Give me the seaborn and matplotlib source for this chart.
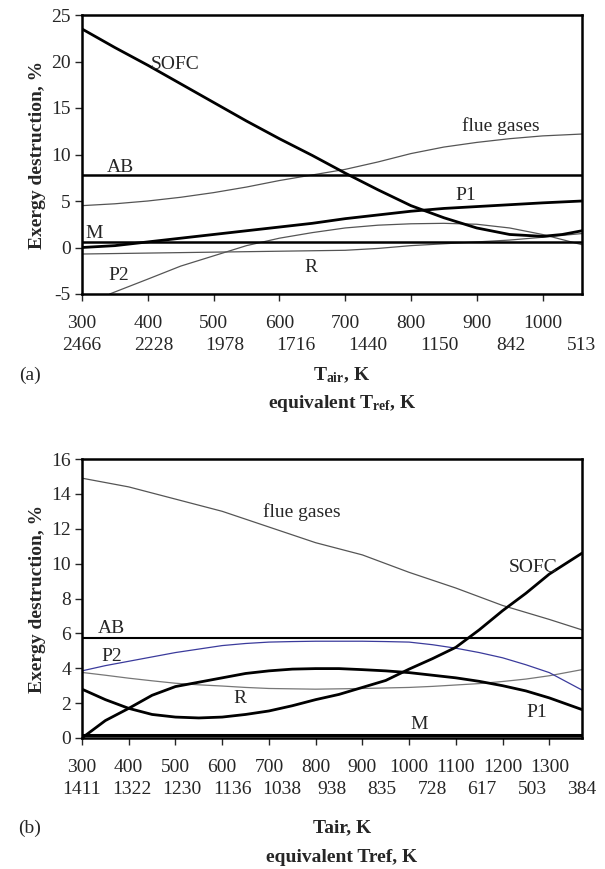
import numpy as np
import pandas as pd
import matplotlib
matplotlib.use("Agg")
import matplotlib.pyplot as plt
import matplotlib.transforms as mtransforms
import seaborn as sns

# ---- panel (a): vs T_air ----
a_T = [300, 350, 400, 450, 500, 550, 600, 650, 700, 750, 800, 850, 900, 950, 1000, 1030, 1060]
a_sofc = [23.5, 21.5, 19.6, 17.6, 15.6, 13.6, 11.7, 9.9, 8.0, 6.2, 4.5, 3.2, 2.1, 1.4, 1.2, 1.4, 1.8]
a_T2 = [300, 350, 400, 450, 500, 550, 600, 650, 700, 750, 800, 850, 900, 950, 1000, 1060]
a_flue = [4.5, 4.7, 5.0, 5.4, 5.9, 6.5, 7.2, 7.8, 8.4, 9.2, 10.1, 10.8, 11.3, 11.7, 12.0, 12.2]
a_p1 = [0.0, 0.2, 0.6, 1.0, 1.4, 1.8, 2.2, 2.6, 3.1, 3.5, 3.9, 4.2, 4.4, 4.6, 4.8, 5.0]
a_r = [-0.7, -0.65, -0.6, -0.55, -0.5, -0.45, -0.4, -0.35, -0.3, -0.1, 0.2, 0.4, 0.6, 0.8, 1.1, 1.5]
a_T_p2 = [342, 400, 450, 500, 550, 600, 650, 700, 750, 800, 850, 900, 950, 1000, 1060]
a_p2 = [-5.0, -3.4, -2.0, -0.9, 0.2, 1.0, 1.6, 2.1, 2.4, 2.55, 2.6, 2.5, 2.1, 1.4, 0.3]
a_ab = 7.8
a_m = 0.6
a_ticks = [300, 400, 500, 600, 700, 800, 900, 1000]
a_tref = ["2466", "2228", "1978", "1716", "1440", "1150", "842", "513"]

# ---- panel (b): vs T_air ----
b_T = [300, 350, 400, 450, 500, 550, 600, 650, 700, 750, 800, 850, 900, 950, 1000, 1050,
       1100, 1150, 1200, 1250, 1300, 1370]
b_sofc = [2.8, 2.2, 1.7, 1.35, 1.2, 1.15, 1.2, 1.35, 1.55, 1.85, 2.2, 2.5, 2.9, 3.3, 3.95, 4.55,
          5.2, 6.2, 7.3, 8.3, 9.4, 10.6]
b_p1 = [0.0, 1.0, 1.7, 2.45, 2.95, 3.2, 3.45, 3.7, 3.85, 3.95, 3.98, 3.98, 3.92, 3.85, 3.75, 3.6,
        3.45, 3.25, 3.0, 2.7, 2.3, 1.63]
b_p2 = [3.85, 4.15, 4.4, 4.65, 4.9, 5.1, 5.3, 5.42, 5.5, 5.53, 5.55, 5.55, 5.55, 5.53, 5.5, 5.35,
        5.15, 4.9, 4.6, 4.2, 3.75, 2.75]
b_r = [3.76, 3.6, 3.43, 3.28, 3.14, 3.05, 2.98, 2.9, 2.84, 2.82, 2.8, 2.82, 2.84, 2.87, 2.9, 2.96,
       3.04, 3.12, 3.24, 3.38, 3.57, 3.92]
b_T_flue = [300, 400, 500, 600, 700, 800, 900, 1000, 1100, 1200, 1300, 1370]
b_flue = [14.9, 14.4, 13.7, 13.0, 12.1, 11.2, 10.5, 9.5, 8.6, 7.6, 6.8, 6.2]
b_ab = 5.75
b_m = 0.2
b_ticks = [300, 400, 500, 600, 700, 800, 900, 1000, 1100, 1200, 1300]
b_tref = ["1411", "1322", "1230", "1136", "1038", "938", "835", "728", "617", "503", "384"]

sns.set_style("ticks")
plt.rcParams['font.family'] = ['Liberation Serif', 'DejaVu Serif']
plt.rcParams['mathtext.fontset'] = 'custom'
plt.rcParams['mathtext.rm'] = 'Liberation Serif:bold'
plt.rcParams['mathtext.bf'] = 'Liberation Serif:bold'
plt.rcParams['mathtext.default'] = 'bf'
plt.rcParams['axes.unicode_minus'] = False

THIN = "#555555"
BLUE = "#3b3b9c"
FS = 14

fig = plt.figure(figsize=(6.05, 8.69), dpi=100)
W, H = 605.0, 869.0
ax1 = fig.add_axes([82 / W, 1 - 294 / H, 500 / W, 279 / H])
ax2 = fig.add_axes([82 / W, 1 - 738 / H, 500 / W, 279 / H])


def line(ax, x, y, color="black", lw=1.8):
    d = pd.DataFrame({"x": x, "y": y})
    sns.lineplot(data=d, x="x", y="y", ax=ax, color=color, lw=lw, sort=False, estimator=None)


def hline(ax, x0, x1, yv, lw=1.8):
    line(ax, [x0, x1], [yv, yv], lw=lw)


# panel a
line(ax1, a_T2, a_flue, THIN, 0.9)
line(ax1, a_T2, a_r, THIN, 0.9)
line(ax1, a_T_p2, a_p2, THIN, 0.9)
hline(ax1, 300, 1060, a_ab)
hline(ax1, 300, 1060, a_m)
line(ax1, a_T2, a_p1, "black", 2.0)
line(ax1, a_T, a_sofc, "black", 2.0)
ax1.set_xlim(300, 1060)
ax1.set_ylim(-5, 25)
ax1.set_yticks(range(-5, 26, 5))
ax1.set_xticks(a_ticks)

for txt, x, y in [("SOFC", 441, 19.7), ("flue gases", 937, 13.1), ("AB", 358, 8.6),
                  ("P1", 884, 5.6), ("M", 319, 1.5), ("R", 648, -2.1), ("P2", 356, -3.0)]:
    ax1.text(x, y, txt, ha="center", va="center", fontsize=FS)

# panel b
line(ax2, b_T_flue, b_flue, THIN, 0.9)
line(ax2, b_T, b_r, "#777777", 0.9)
line(ax2, b_T, b_p2, BLUE, 0.9)
hline(ax2, 300, 1370, b_ab, 1.5)
hline(ax2, 300, 1370, b_m, 2.2)
line(ax2, b_T, b_p1, "black", 2.0)
line(ax2, b_T, b_sofc, "black", 2.0)
ax2.set_xlim(300, 1370)
ax2.set_ylim(0, 16)
ax2.set_yticks(range(0, 17, 2))
ax2.set_xticks(b_ticks)

for txt, x, y in [("flue gases", 771, 12.96), ("SOFC", 1265, 9.8), ("AB", 363, 6.3),
                  ("P2", 364, 4.67), ("R", 637, 2.25), ("P1", 1273, 1.47), ("M", 1021, 0.75)]:
    ax2.text(x, y, txt, ha="center", va="center", fontsize=FS)

for ax, tref, y2 in [(ax1, a_tref, 345), (ax2, b_tref, 790)]:
    ax.set_xlabel("")
    ax.set_ylabel("Exergy destruction, %", fontsize=FS, fontweight="bold", labelpad=4)
    for s in ax.spines.values():
        s.set_linewidth(1.8)
        s.set_color("black")
    ax.tick_params(direction="out", length=5, width=1.0, labelsize=FS, pad=10, axis="x")
    ax.tick_params(direction="out", length=5, width=1.0, labelsize=FS, pad=3, axis="y")
    # second row: equivalent reference temperature, spread across the axis
    lo, hi = ax.get_xlim()
    tr = mtransforms.blended_transform_factory(ax.transData, fig.transFigure)
    for px, lab in zip(np.linspace(lo, hi, len(tref)), tref):
        ax.text(px, 1 - y2 / H, lab, transform=tr, ha="center", va="center", fontsize=FS)

fig.text(30 / W, 1 - 375 / H, "(a)", ha="center", va="center", fontsize=FS)
fig.text(342 / W, 1 - 375 / H, r"T$_{air}$, K", ha="center", va="center", fontsize=FS, fontweight="bold")
fig.text(342 / W, 1 - 403 / H, r"equivalent T$_{ref}$, K", ha="center", va="center", fontsize=FS,
         fontweight="bold")
fig.text(30 / W, 1 - 828 / H, "(b)", ha="center", va="center", fontsize=FS)
fig.text(342 / W, 1 - 828 / H, "Tair, K", ha="center", va="center", fontsize=FS, fontweight="bold")
fig.text(342 / W, 1 - 857 / H, "equivalent Tref, K", ha="center", va="center", fontsize=FS,
         fontweight="bold")

fig.savefig("out.png", dpi=100)
